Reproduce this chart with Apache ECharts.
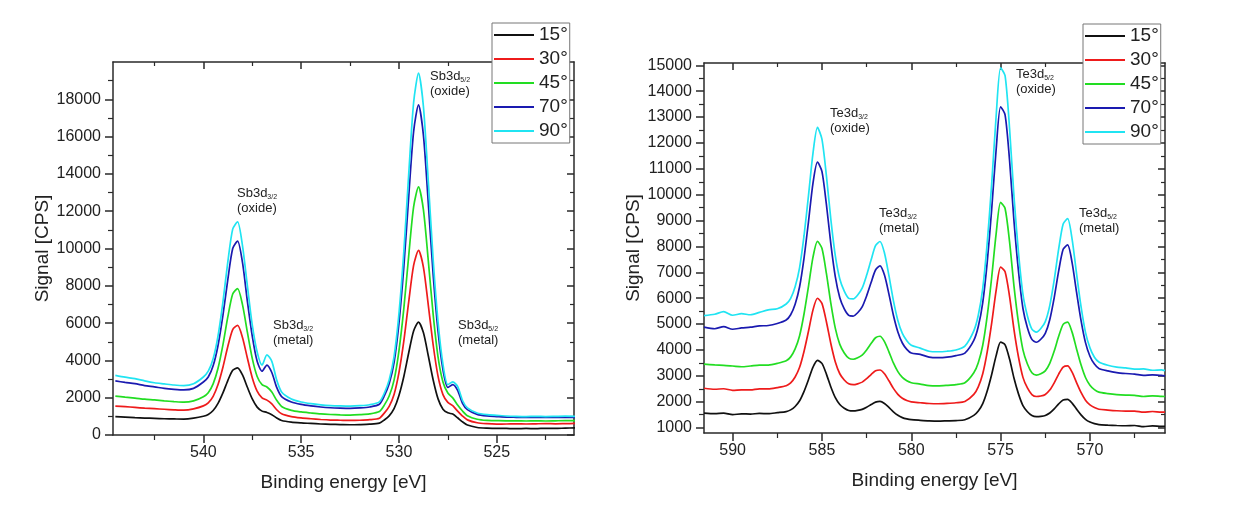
<!DOCTYPE html>
<html><head><meta charset="utf-8">
<script src="https://cdn.jsdelivr.net/npm/echarts@6/dist/echarts.min.js"></script>
<style>html,body{margin:0;padding:0;background:#fff}#c{width:1240px;height:513px}</style>
</head><body><div id="c"></div>
<script>
// ---------------- Sb 3d (left panel) ----------------
const sbEnergy = [544.5,544,543.5,543,542.5,542,541.5,541,540.5,540,539.75,539.5,539.25,539,538.75,538.5,538.25,538,537.75,537.5,537.25,537,536.75,536.5,536.25,536,535.5,535,534.5,534,533.5,533,532.5,532,531.5,531,530.75,530.5,530.25,530,529.75,529.5,529.25,529,528.75,528.5,528.25,528,527.75,527.5,527.25,527,526.75,526.5,526,525.5,525,524.5,524,523.5,523,522.5,522,521.5,521];
const sb15 = [980,960,930,910,890,870,860,850,900,1005,1103,1315,1695,2255,2920,3470,3600,3220,2560,1935,1495,1280,1210,1090,910,779,688,647,620,590,570,560,550,560,580,640,807,1026,1409,2118,3139,4410,5578,6050,5491,4248,2950,1938,1386,1188,1120,923,703,532,404,368,357,350,340,350,340,360,350,370,380];
const sb30 = [1550,1520,1480,1440,1410,1380,1350,1330,1400,1560,1725,2075,2705,3635,4745,5655,5875,5230,4125,3075,2350,1985,1870,1670,1355,1135,985,915,870,830,800,790,780,790,820,900,1175,1538,2174,3347,5041,7152,9098,9900,8999,6969,4826,3141,2166,1748,1572,1278,1014,811,655,606,588,590,600,590,600,610,600,610,620];
const sb45 = [2080,2030,1980,1920,1880,1830,1790,1760,1830,2050,2270,2740,3580,4830,6330,7560,7850,6990,5515,4110,3140,2700,2575,2305,1860,1530,1320,1235,1180,1130,1100,1080,1070,1090,1130,1260,1600,2088,2941,4515,6789,9622,12230,13300,12083,9347,6457,4179,2846,2251,1992,1608,1285,1036,845,782,770,760,760,750,760,750,760,770,770];
const sb70 = [2900,2820,2750,2650,2580,2500,2450,2420,2500,2840,3110,3710,4800,6410,8330,10000,10400,9250,7170,5300,3950,3420,3750,3350,2550,2060,1770,1640,1560,1500,1460,1440,1430,1450,1500,1650,2093,2743,3880,5980,9013,12792,16271,17700,16080,12435,8581,5548,3500,2550,2700,2400,1700,1358,1105,1022,990,960,950,940,950,940,950,950,950];
const sb90 = [3200,3100,3020,2900,2800,2740,2680,2650,2750,3110,3420,4090,5320,7130,9280,11040,11430,10150,8010,5900,4450,3750,4300,3950,2945,2310,1930,1770,1680,1620,1580,1560,1550,1570,1620,1780,2240,2956,4207,6513,9847,14000,17826,19400,17623,13623,9390,6053,3800,2700,2850,2600,1850,1450,1181,1090,1055,1020,1000,990,1000,990,1000,1010,1000];

// ---------------- Te 3d (right panel) ----------------
const teEnergy = [591.6,591,590.5,590,589.5,589,588.5,588,587.5,587,586.75,586.5,586.25,586,585.75,585.5,585.25,585,584.75,584.5,584.25,584,583.75,583.5,583.25,583,582.75,582.5,582.25,582,581.75,581.5,581.25,581,580.75,580.5,580.25,580,579.5,579,578.5,578,577.5,577,576.5,576.25,576,575.75,575.5,575.25,575,574.75,574.5,574.25,574,573.75,573.5,573.25,573,572.75,572.5,572.25,572,571.75,571.5,571.25,571,570.75,570.5,570.25,570,569.75,569.5,569,568.5,568,567.5,567,566.5,566,565.8];
const te15 = [1560,1540,1560,1500,1530,1521,1547,1537,1576,1619,1684,1815,2035,2399,2856,3336,3598,3482,3067,2569,2155,1890,1748,1661,1642,1662,1704,1787,1888,1983,2011,1933,1778,1608,1474,1385,1334,1304,1280,1260,1250,1260,1270,1300,1471,1639,1928,2413,3052,3781,4300,4199,3648,2906,2302,1848,1612,1467,1423,1434,1468,1563,1723,1915,2067,2090,1947,1713,1492,1318,1211,1150,1114,1094,1079,1071,1079,1037,1066,1045,1050];
const te30 = [2520,2480,2500,2440,2460,2456,2496,2494,2546,2618,2729,2954,3328,3949,4731,5549,5997,5799,5090,4240,3533,3080,2838,2690,2656,2691,2756,2889,3049,3193,3225,3079,2807,2514,2285,2132,2043,1993,1960,1930,1920,1935,1960,2010,2284,2575,3078,3923,5034,6298,7200,7025,6068,4777,3727,2940,2530,2277,2200,2220,2281,2449,2730,3068,3339,3385,3141,2740,2360,2060,1876,1772,1709,1676,1650,1637,1636,1593,1620,1598,1600];
const te45 = [3450,3420,3400,3380,3350,3379,3413,3417,3481,3580,3732,4039,4550,5399,6467,7585,8197,7927,6958,5797,4831,4214,3885,3684,3641,3696,3798,4000,4246,4471,4530,4323,3928,3499,3162,2937,2808,2734,2680,2620,2610,2630,2660,2730,3117,3507,4181,5314,6801,8495,9700,9469,8187,6460,5057,4004,3458,3122,3029,3078,3193,3482,3956,4527,4988,5077,4689,4039,3424,2935,2638,2466,2369,2315,2276,2256,2247,2201,2226,2203,2200];
const te70 = [4880,4820,4900,4800,4850,4880,4930,4945,5023,5158,5360,5766,6441,7561,8972,10447,11256,10900,9623,8093,6822,6015,5588,5334,5308,5437,5664,6087,6604,7089,7251,6893,6156,5341,4695,4268,4024,3883,3830,3720,3700,3720,3780,3880,4370,4905,5831,7385,9426,11748,13400,13087,11331,8964,7042,5602,4859,4407,4298,4413,4640,5169,6025,7055,7888,8057,7378,6231,5144,4282,3758,3453,3285,3189,3124,3090,3067,3018,3038,3014,3000];
const te90 = [5330,5380,5480,5340,5400,5360,5450,5550,5590,5776,5995,6441,7185,8424,9981,11610,12600,12145,10734,9040,7634,6744,6273,5994,5971,6123,6387,6885,7474,8028,8192,7748,6870,5908,5140,4637,4357,4180,4071,3950,3930,3950,4000,4150,4739,5341,6381,8128,10420,13039,14900,14600,12569,9911,7763,6145,5313,4806,4688,4826,5094,5715,6710,7903,8871,9073,8286,6949,5681,4680,4079,3718,3533,3408,3339,3306,3255,3265,3215,3230,3200];

const angles = ['15°','30°','45°','70°','90°'];
const colors = ['#111111','#ee1b1b','#22dd22','#1a1ab0','#20e4f2'];

const sbXTicks = [525,530,535,540];
const sbXMinor = [522.5,527.5,532.5,537.5,542.5];
const sbYTicks = [0,2000,4000,6000,8000,10000,12000,14000,16000,18000];
const sbYMinor = [1000,3000,5000,7000,9000,11000,13000,15000,17000,19000];
const teXTicks = [570,575,580,585,590];
const teXMinor = [567.5,572.5,577.5,582.5,587.5];
const teYTicks = [1000,2000,3000,4000,5000,6000,7000,8000,9000,10000,11000,12000,13000,14000,15000];
const teYMinor = [1500,2500,3500,4500,5500,6500,7500,8500,9500,10500,11500,12500,13500,14500];

const FONT = 'Liberation Sans, Arial, sans-serif';
const AX = '#2a2a2a';
const TXT = '#222';
const plain = v => String(v);

function xAxesFor(grid, min, max, major, minor) {
  const base = {type:'value', gridIndex:grid, min:min, max:max, inverse:true, splitLine:{show:false}};
  return [
    Object.assign({}, base, {position:'bottom',
      axisLine:{show:true, onZero:false, lineStyle:{color:AX, width:1.5}},
      axisTick:{show:true, customValues:major, length:8, lineStyle:{color:AX, width:1.5}},
      axisLabel:{show:true, customValues:major, fontSize:16, color:TXT, margin:10, fontFamily:FONT, formatter:plain},
      name:'Binding energy [eV]', nameLocation:'middle', nameGap:38,
      nameTextStyle:{fontSize:19, color:TXT, fontFamily:FONT}}),
    Object.assign({}, base, {position:'bottom',
      axisLine:{show:false, onZero:false},
      axisTick:{show:true, customValues:minor, length:5, lineStyle:{color:AX, width:1.2}},
      axisLabel:{show:false}}),
    Object.assign({}, base, {position:'top',
      axisLine:{show:true, onZero:false, lineStyle:{color:AX, width:1.5}},
      axisTick:{show:true, inside:true, customValues:major, length:7, lineStyle:{color:AX, width:1.5}},
      axisLabel:{show:false}}),
    Object.assign({}, base, {position:'top',
      axisLine:{show:false, onZero:false},
      axisTick:{show:true, inside:true, customValues:minor, length:4, lineStyle:{color:AX, width:1.2}},
      axisLabel:{show:false}})
  ];
}
function yAxesFor(grid, min, max, major, minor, gap) {
  const base = {type:'value', gridIndex:grid, min:min, max:max, splitLine:{show:false}};
  return [
    Object.assign({}, base, {position:'left',
      axisLine:{show:true, onZero:false, lineStyle:{color:AX, width:1.5}},
      axisTick:{show:true, customValues:major, length:8, lineStyle:{color:AX, width:1.5}},
      axisLabel:{show:true, customValues:major, fontSize:16, color:TXT, margin:12, fontFamily:FONT, formatter:plain},
      name:'Signal [CPS]', nameLocation:'middle', nameGap:gap, nameRotate:90,
      nameTextStyle:{fontSize:19, color:TXT, fontFamily:FONT}}),
    Object.assign({}, base, {position:'left',
      axisLine:{show:false, onZero:false},
      axisTick:{show:true, customValues:minor, length:5, lineStyle:{color:AX, width:1.2}},
      axisLabel:{show:false}}),
    Object.assign({}, base, {position:'right',
      axisLine:{show:true, onZero:false, lineStyle:{color:AX, width:1.5}},
      axisTick:{show:true, inside:true, customValues:major, length:7, lineStyle:{color:AX, width:1.5}},
      axisLabel:{show:false}}),
    Object.assign({}, base, {position:'right',
      axisLine:{show:false, onZero:false},
      axisTick:{show:true, inside:true, customValues:minor, length:4, lineStyle:{color:AX, width:1.2}},
      axisLabel:{show:false}})
  ];
}

const sbSets = [sb15, sb30, sb45, sb70, sb90];
const teSets = [te15, te30, te45, te70, te90];
const series = [];
sbSets.forEach((arr, k) => series.push({
  name: angles[k], type:'line', xAxisIndex:0, yAxisIndex:0,
  data: sbEnergy.map((e, i) => [e, arr[i]]),
  showSymbol:false, symbol:'none', smooth:0.25,
  lineStyle:{width:1.7, color:colors[k]}, itemStyle:{color:colors[k]}
}));
teSets.forEach((arr, k) => series.push({
  name: angles[k], type:'line', xAxisIndex:4, yAxisIndex:4,
  data: teEnergy.map((e, i) => [e, arr[i]]),
  showSymbol:false, symbol:'none', smooth:0.25,
  lineStyle:{width:1.7, color:colors[k]}, itemStyle:{color:colors[k]}
}));

function legendAt(left, top) {
  return {orient:'vertical', left:left, top:top, data:angles, selectedMode:false,
    icon:'rect', itemWidth:40, itemHeight:2, itemGap:4, itemTextGap:4,
    padding:[2,2,2,2], backgroundColor:'#fff', borderColor:'#777', borderWidth:1,
    textStyle:{fontSize:19, color:TXT, fontFamily:FONT, lineHeight:20}, z:10};
}

const rich = {
  m:{fontSize:13, lineHeight:15, fill:TXT, fontFamily:FONT},
  s:{fontSize:7, lineHeight:15, fill:TXT, fontFamily:FONT, verticalAlign:'bottom'}
};
function note(left, top, el, sub, state) {
  return {type:'text', left:left, top:top, z:20,
    style:{text:'{m|' + el + '}{s|' + sub + '}\n{m|(' + state + ')}', rich:rich}};
}

const option = {
  animation:false,
  backgroundColor:'#fff',
  textStyle:{fontFamily:FONT},
  grid:[
    {left:113, top:62, width:461, height:373},
    {left:704, top:63, width:461, height:370}
  ],
  xAxis: xAxesFor(0, 521.05, 544.62, sbXTicks, sbXMinor).concat(xAxesFor(1, 565.8, 591.6, teXTicks, teXMinor)),
  yAxis: yAxesFor(0, 0, 20000, sbYTicks, sbYMinor, 61).concat(yAxesFor(1, 790, 15090, teYTicks, teYMinor, 56)),
  legend:[legendAt(492, 23), legendAt(1083, 24)],
  series: series,
  graphic:[
    note(430, 70, 'Sb3d', '5/2', 'oxide'),
    note(237, 187, 'Sb3d', '3/2', 'oxide'),
    note(273, 319, 'Sb3d', '3/2', 'metal'),
    note(458, 319, 'Sb3d', '5/2', 'metal'),
    note(1016, 68, 'Te3d', '5/2', 'oxide'),
    note(830, 107, 'Te3d', '3/2', 'oxide'),
    note(879, 207, 'Te3d', '3/2', 'metal'),
    note(1079, 207, 'Te3d', '5/2', 'metal')
  ]
};
const chart = echarts.init(document.getElementById('c'), null, {renderer:'canvas'});
chart.setOption(option);
</script>
</body></html>
